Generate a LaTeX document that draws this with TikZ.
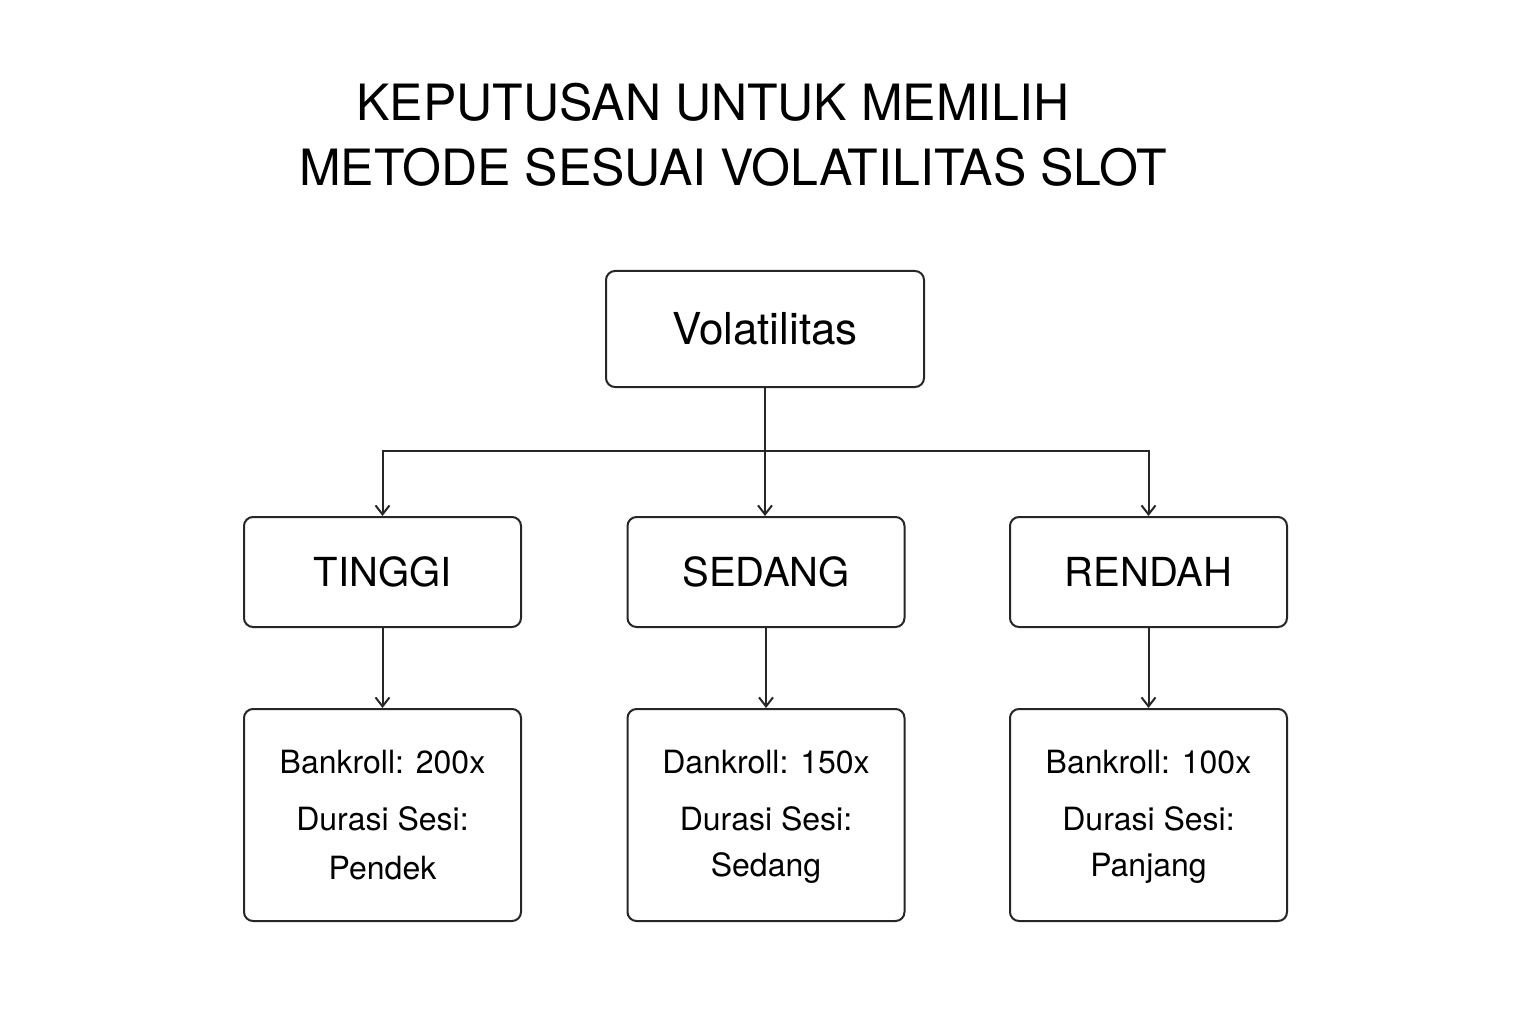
\documentclass[tikz,border=0pt]{standalone}
\usepackage{fontspec}
\setmainfont{TeX Gyre Heros}
\usetikzlibrary{arrows.meta}
\begin{document}
\begin{tikzpicture}[x=1pt,y=-1pt,
  box/.style={draw=black!85,line width=2pt,rounded corners=9pt,inner sep=0pt},
  conn/.style={draw=black!85,line width=2pt,-{Straight Barb[length=9pt,width=14pt,line width=2pt]}}]
\useasboundingbox (0,0) rectangle (1536,1024);
\node (t1) at (713,102) {\fontsize{50}{60}\selectfont KEPUTUSAN UNTUK MEMILIH};
\node (t2) at (733,167) {\fontsize{50}{60}\selectfont METODE SESUAI VOLATILITAS SLOT};
\node[box,minimum width=318pt,minimum height=116pt] (v) at (765,329) {\fontsize{44}{52}\selectfont Volatilitas};
\foreach \n/\x/\t in {a/382.5/TINGGI,b/766/SEDANG,c/1148.5/RENDAH}{
  \node[box,minimum width=277pt,minimum height=110pt] (\n) at (\x,572) {\fontsize{40}{48}\selectfont \t};
}
\foreach \n/\x/\l/\m in {a/382.5/{Bankroll: 200x}/Pendek,b/766/{Dankroll: 150x}/Sedang,c/1148.5/{Bankroll: 100x}/Panjang}{
  \node[box,minimum width=277pt,minimum height=212pt] (\n2) at (\x,815) {};
  \node at (\x,762) {\fontsize{32}{38}\selectfont \l};
  \node at (\x,819) {\fontsize{32}{38}\selectfont Durasi Sesi:};
  \node at (\x,868) {\fontsize{32}{38}\selectfont \m};
  \draw[conn] (\n.south) -- (\n2.north);
}
\coordinate (j) at (765,451);
\draw[conn] (v.south) -- (v.south |- b.north);
\draw[conn] (j) -| (a.north);
\draw[conn] (j) -| (c.north);
\end{tikzpicture}
\end{document}
